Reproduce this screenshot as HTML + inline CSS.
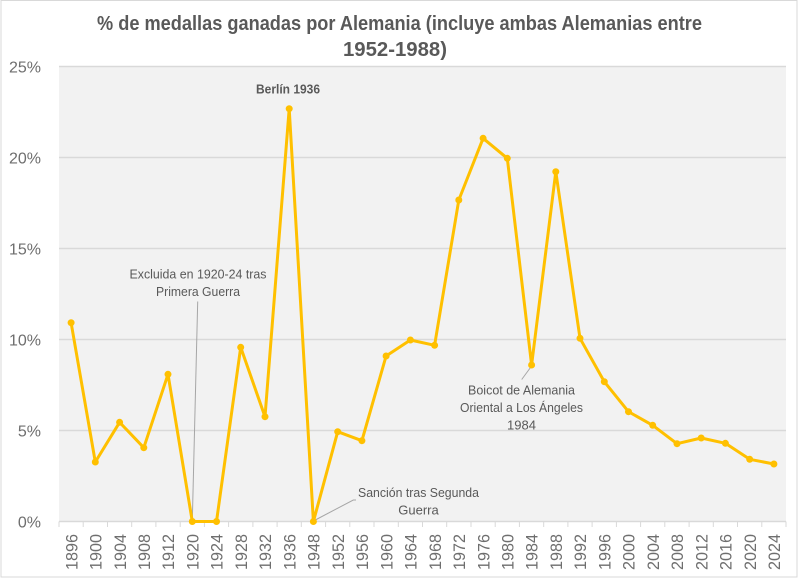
<!DOCTYPE html>
<html>
<head>
<meta charset="utf-8">
<style>
  html,body{margin:0;padding:0;background:#fff;}
  body{width:800px;height:580px;overflow:hidden;}
  svg{display:block;font-family:"Liberation Sans",sans-serif;}
</style>
</head>
<body>
<svg width="800" height="580" viewBox="0 0 800 580" xmlns="http://www.w3.org/2000/svg">
  <!-- outer frame -->
  <rect x="1" y="0.5" width="796" height="576.5" fill="#fff" stroke="#d9d9d9" stroke-width="1"/>

  <!-- title -->
  <text x="399.5" y="30" text-anchor="middle" font-size="20" font-weight="bold" fill="#595959" textLength="605" lengthAdjust="spacingAndGlyphs">% de medallas ganadas por Alemania (incluye ambas Alemanias entre</text>
  <text x="395" y="56" text-anchor="middle" font-size="20" font-weight="bold" fill="#595959" textLength="104" lengthAdjust="spacingAndGlyphs">1952-1988)</text>

  <!-- plot area -->
  <rect x="59" y="66.5" width="727" height="455" fill="#f2f2f2"/>

  <!-- gridlines -->
  <g stroke="#d9d9d9" stroke-width="1.5">
    <line x1="59" y1="66.5" x2="786" y2="66.5"/>
    <line x1="59" y1="157.5" x2="786" y2="157.5"/>
    <line x1="59" y1="248.5" x2="786" y2="248.5"/>
    <line x1="59" y1="339.5" x2="786" y2="339.5"/>
    <line x1="59" y1="430.5" x2="786" y2="430.5"/>
    <line x1="59" y1="521.5" x2="786" y2="521.5"/>
  </g>

  <!-- y labels -->
  <g font-size="16" fill="#6e6e6e" text-anchor="end">
    <text x="41" y="72.5">25%</text>
    <text x="41" y="163.5">20%</text>
    <text x="41" y="254.5">15%</text>
    <text x="41" y="345.5">10%</text>
    <text x="41" y="436.5">5%</text>
    <text x="41" y="527.5">0%</text>
  </g>

  <!-- ticks -->
  <g stroke="#d9d9d9" stroke-width="1">
    <line x1="59" y1="521.5" x2="59" y2="527"/>
    <line x1="83.2" y1="521.5" x2="83.2" y2="527"/>
    <line x1="107.5" y1="521.5" x2="107.5" y2="527"/>
    <line x1="131.7" y1="521.5" x2="131.7" y2="527"/>
    <line x1="155.9" y1="521.5" x2="155.9" y2="527"/>
    <line x1="180.2" y1="521.5" x2="180.2" y2="527"/>
    <line x1="204.4" y1="521.5" x2="204.4" y2="527"/>
    <line x1="228.6" y1="521.5" x2="228.6" y2="527"/>
    <line x1="252.9" y1="521.5" x2="252.9" y2="527"/>
    <line x1="277.1" y1="521.5" x2="277.1" y2="527"/>
    <line x1="301.3" y1="521.5" x2="301.3" y2="527"/>
    <line x1="325.6" y1="521.5" x2="325.6" y2="527"/>
    <line x1="349.8" y1="521.5" x2="349.8" y2="527"/>
    <line x1="374" y1="521.5" x2="374" y2="527"/>
    <line x1="398.3" y1="521.5" x2="398.3" y2="527"/>
    <line x1="422.5" y1="521.5" x2="422.5" y2="527"/>
    <line x1="446.7" y1="521.5" x2="446.7" y2="527"/>
    <line x1="471" y1="521.5" x2="471" y2="527"/>
    <line x1="495.2" y1="521.5" x2="495.2" y2="527"/>
    <line x1="519.4" y1="521.5" x2="519.4" y2="527"/>
    <line x1="543.7" y1="521.5" x2="543.7" y2="527"/>
    <line x1="567.9" y1="521.5" x2="567.9" y2="527"/>
    <line x1="592.1" y1="521.5" x2="592.1" y2="527"/>
    <line x1="616.4" y1="521.5" x2="616.4" y2="527"/>
    <line x1="640.6" y1="521.5" x2="640.6" y2="527"/>
    <line x1="664.8" y1="521.5" x2="664.8" y2="527"/>
    <line x1="689.1" y1="521.5" x2="689.1" y2="527"/>
    <line x1="713.3" y1="521.5" x2="713.3" y2="527"/>
    <line x1="737.5" y1="521.5" x2="737.5" y2="527"/>
    <line x1="761.8" y1="521.5" x2="761.8" y2="527"/>
    <line x1="786" y1="521.5" x2="786" y2="527"/>
  </g>

  <!-- x labels (rotated) -->
  <g font-size="17" fill="#6e6e6e" text-anchor="end">
    <text transform="translate(77.3,534) rotate(-90)" textLength="36" lengthAdjust="spacingAndGlyphs">1896</text>
    <text transform="translate(101.5,534) rotate(-90)" textLength="36" lengthAdjust="spacingAndGlyphs">1900</text>
    <text transform="translate(125.8,534) rotate(-90)" textLength="36" lengthAdjust="spacingAndGlyphs">1904</text>
    <text transform="translate(150,534) rotate(-90)" textLength="36" lengthAdjust="spacingAndGlyphs">1908</text>
    <text transform="translate(174.2,534) rotate(-90)" textLength="36" lengthAdjust="spacingAndGlyphs">1912</text>
    <text transform="translate(198.5,534) rotate(-90)" textLength="36" lengthAdjust="spacingAndGlyphs">1920</text>
    <text transform="translate(222.7,534) rotate(-90)" textLength="36" lengthAdjust="spacingAndGlyphs">1924</text>
    <text transform="translate(246.9,534) rotate(-90)" textLength="36" lengthAdjust="spacingAndGlyphs">1928</text>
    <text transform="translate(271.2,534) rotate(-90)" textLength="36" lengthAdjust="spacingAndGlyphs">1932</text>
    <text transform="translate(295.4,534) rotate(-90)" textLength="36" lengthAdjust="spacingAndGlyphs">1936</text>
    <text transform="translate(319.6,534) rotate(-90)" textLength="36" lengthAdjust="spacingAndGlyphs">1948</text>
    <text transform="translate(343.9,534) rotate(-90)" textLength="36" lengthAdjust="spacingAndGlyphs">1952</text>
    <text transform="translate(368.1,534) rotate(-90)" textLength="36" lengthAdjust="spacingAndGlyphs">1956</text>
    <text transform="translate(392.3,534) rotate(-90)" textLength="36" lengthAdjust="spacingAndGlyphs">1960</text>
    <text transform="translate(416.6,534) rotate(-90)" textLength="36" lengthAdjust="spacingAndGlyphs">1964</text>
    <text transform="translate(440.8,534) rotate(-90)" textLength="36" lengthAdjust="spacingAndGlyphs">1968</text>
    <text transform="translate(465,534) rotate(-90)" textLength="36" lengthAdjust="spacingAndGlyphs">1972</text>
    <text transform="translate(489.3,534) rotate(-90)" textLength="36" lengthAdjust="spacingAndGlyphs">1976</text>
    <text transform="translate(513.5,534) rotate(-90)" textLength="36" lengthAdjust="spacingAndGlyphs">1980</text>
    <text transform="translate(537.7,534) rotate(-90)" textLength="36" lengthAdjust="spacingAndGlyphs">1984</text>
    <text transform="translate(562,534) rotate(-90)" textLength="36" lengthAdjust="spacingAndGlyphs">1988</text>
    <text transform="translate(586.2,534) rotate(-90)" textLength="36" lengthAdjust="spacingAndGlyphs">1992</text>
    <text transform="translate(610.4,534) rotate(-90)" textLength="36" lengthAdjust="spacingAndGlyphs">1996</text>
    <text transform="translate(634.7,534) rotate(-90)" textLength="36" lengthAdjust="spacingAndGlyphs">2000</text>
    <text transform="translate(658.9,534) rotate(-90)" textLength="36" lengthAdjust="spacingAndGlyphs">2004</text>
    <text transform="translate(683.1,534) rotate(-90)" textLength="36" lengthAdjust="spacingAndGlyphs">2008</text>
    <text transform="translate(707.4,534) rotate(-90)" textLength="36" lengthAdjust="spacingAndGlyphs">2012</text>
    <text transform="translate(731.6,534) rotate(-90)" textLength="36" lengthAdjust="spacingAndGlyphs">2016</text>
    <text transform="translate(755.8,534) rotate(-90)" textLength="36" lengthAdjust="spacingAndGlyphs">2020</text>
    <text transform="translate(780.1,534) rotate(-90)" textLength="36" lengthAdjust="spacingAndGlyphs">2024</text>
  </g>

  <!-- leader lines -->
  <g stroke="#a6a6a6" stroke-width="1" fill="none">
    <line x1="197.7" y1="301.5" x2="192.3" y2="521"/>
    <line x1="531.6" y1="366" x2="521.7" y2="379.5"/>
    <polyline points="313.4,521 353.3,500 356,500"/>
  </g>

  <!-- series line -->
  <polyline fill="none" stroke="#ffc000" stroke-width="3" stroke-linejoin="round"
    points="71.1,322.7 95.3,462 119.6,422.3 143.8,447.7 168,374.3 192.3,521.5 216.5,521.5 240.7,347.3 265,416.7 289.2,108.7 313.4,521.5 337.7,431.7 361.9,440.7 386.1,356 410.4,340 434.6,345.3 458.8,200 483.1,138.3 507.3,158.3 531.6,365 555.8,171.7 580,338.3 604.3,381.7 628.5,411.7 652.7,425.3 677,443.7 701.2,438 725.4,443.3 749.7,459.3 773.9,464"/>

  <!-- markers -->
  <g fill="#ffc000">
    <circle cx="71.1" cy="322.7" r="3.5"/>
    <circle cx="95.3" cy="462" r="3.5"/>
    <circle cx="119.6" cy="422.3" r="3.5"/>
    <circle cx="143.8" cy="447.7" r="3.5"/>
    <circle cx="168" cy="374.3" r="3.5"/>
    <circle cx="192.3" cy="521.5" r="3.5"/>
    <circle cx="216.5" cy="521.5" r="3.5"/>
    <circle cx="240.7" cy="347.3" r="3.5"/>
    <circle cx="265" cy="416.7" r="3.5"/>
    <circle cx="289.2" cy="108.7" r="3.5"/>
    <circle cx="313.4" cy="521.5" r="3.5"/>
    <circle cx="337.7" cy="431.7" r="3.5"/>
    <circle cx="361.9" cy="440.7" r="3.5"/>
    <circle cx="386.1" cy="356" r="3.5"/>
    <circle cx="410.4" cy="340" r="3.5"/>
    <circle cx="434.6" cy="345.3" r="3.5"/>
    <circle cx="458.8" cy="200" r="3.5"/>
    <circle cx="483.1" cy="138.3" r="3.5"/>
    <circle cx="507.3" cy="158.3" r="3.5"/>
    <circle cx="531.6" cy="365" r="3.5"/>
    <circle cx="555.8" cy="171.7" r="3.5"/>
    <circle cx="580" cy="338.3" r="3.5"/>
    <circle cx="604.3" cy="381.7" r="3.5"/>
    <circle cx="628.5" cy="411.7" r="3.5"/>
    <circle cx="652.7" cy="425.3" r="3.5"/>
    <circle cx="677" cy="443.7" r="3.5"/>
    <circle cx="701.2" cy="438" r="3.5"/>
    <circle cx="725.4" cy="443.3" r="3.5"/>
    <circle cx="749.7" cy="459.3" r="3.5"/>
    <circle cx="773.9" cy="464" r="3.5"/>
  </g>

  <!-- annotations -->
  <g font-size="13" fill="#595959" text-anchor="middle">
    <text x="288" y="93.5" font-weight="bold" textLength="64" lengthAdjust="spacingAndGlyphs">Berlín 1936</text>
    <text x="198" y="278.5" textLength="137" lengthAdjust="spacingAndGlyphs">Excluida en 1920-24 tras</text>
    <text x="198" y="296" textLength="84" lengthAdjust="spacingAndGlyphs">Primera Guerra</text>
    <text x="521.5" y="394.5" textLength="107" lengthAdjust="spacingAndGlyphs">Boicot de Alemania</text>
    <text x="521.5" y="412" textLength="123" lengthAdjust="spacingAndGlyphs">Oriental a Los Ángeles</text>
    <text x="521.5" y="429.5">1984</text>
    <text x="418.5" y="497" textLength="121" lengthAdjust="spacingAndGlyphs">Sanción tras Segunda</text>
    <text x="418.5" y="514.5">Guerra</text>
  </g>
</svg>
</body>
</html>
